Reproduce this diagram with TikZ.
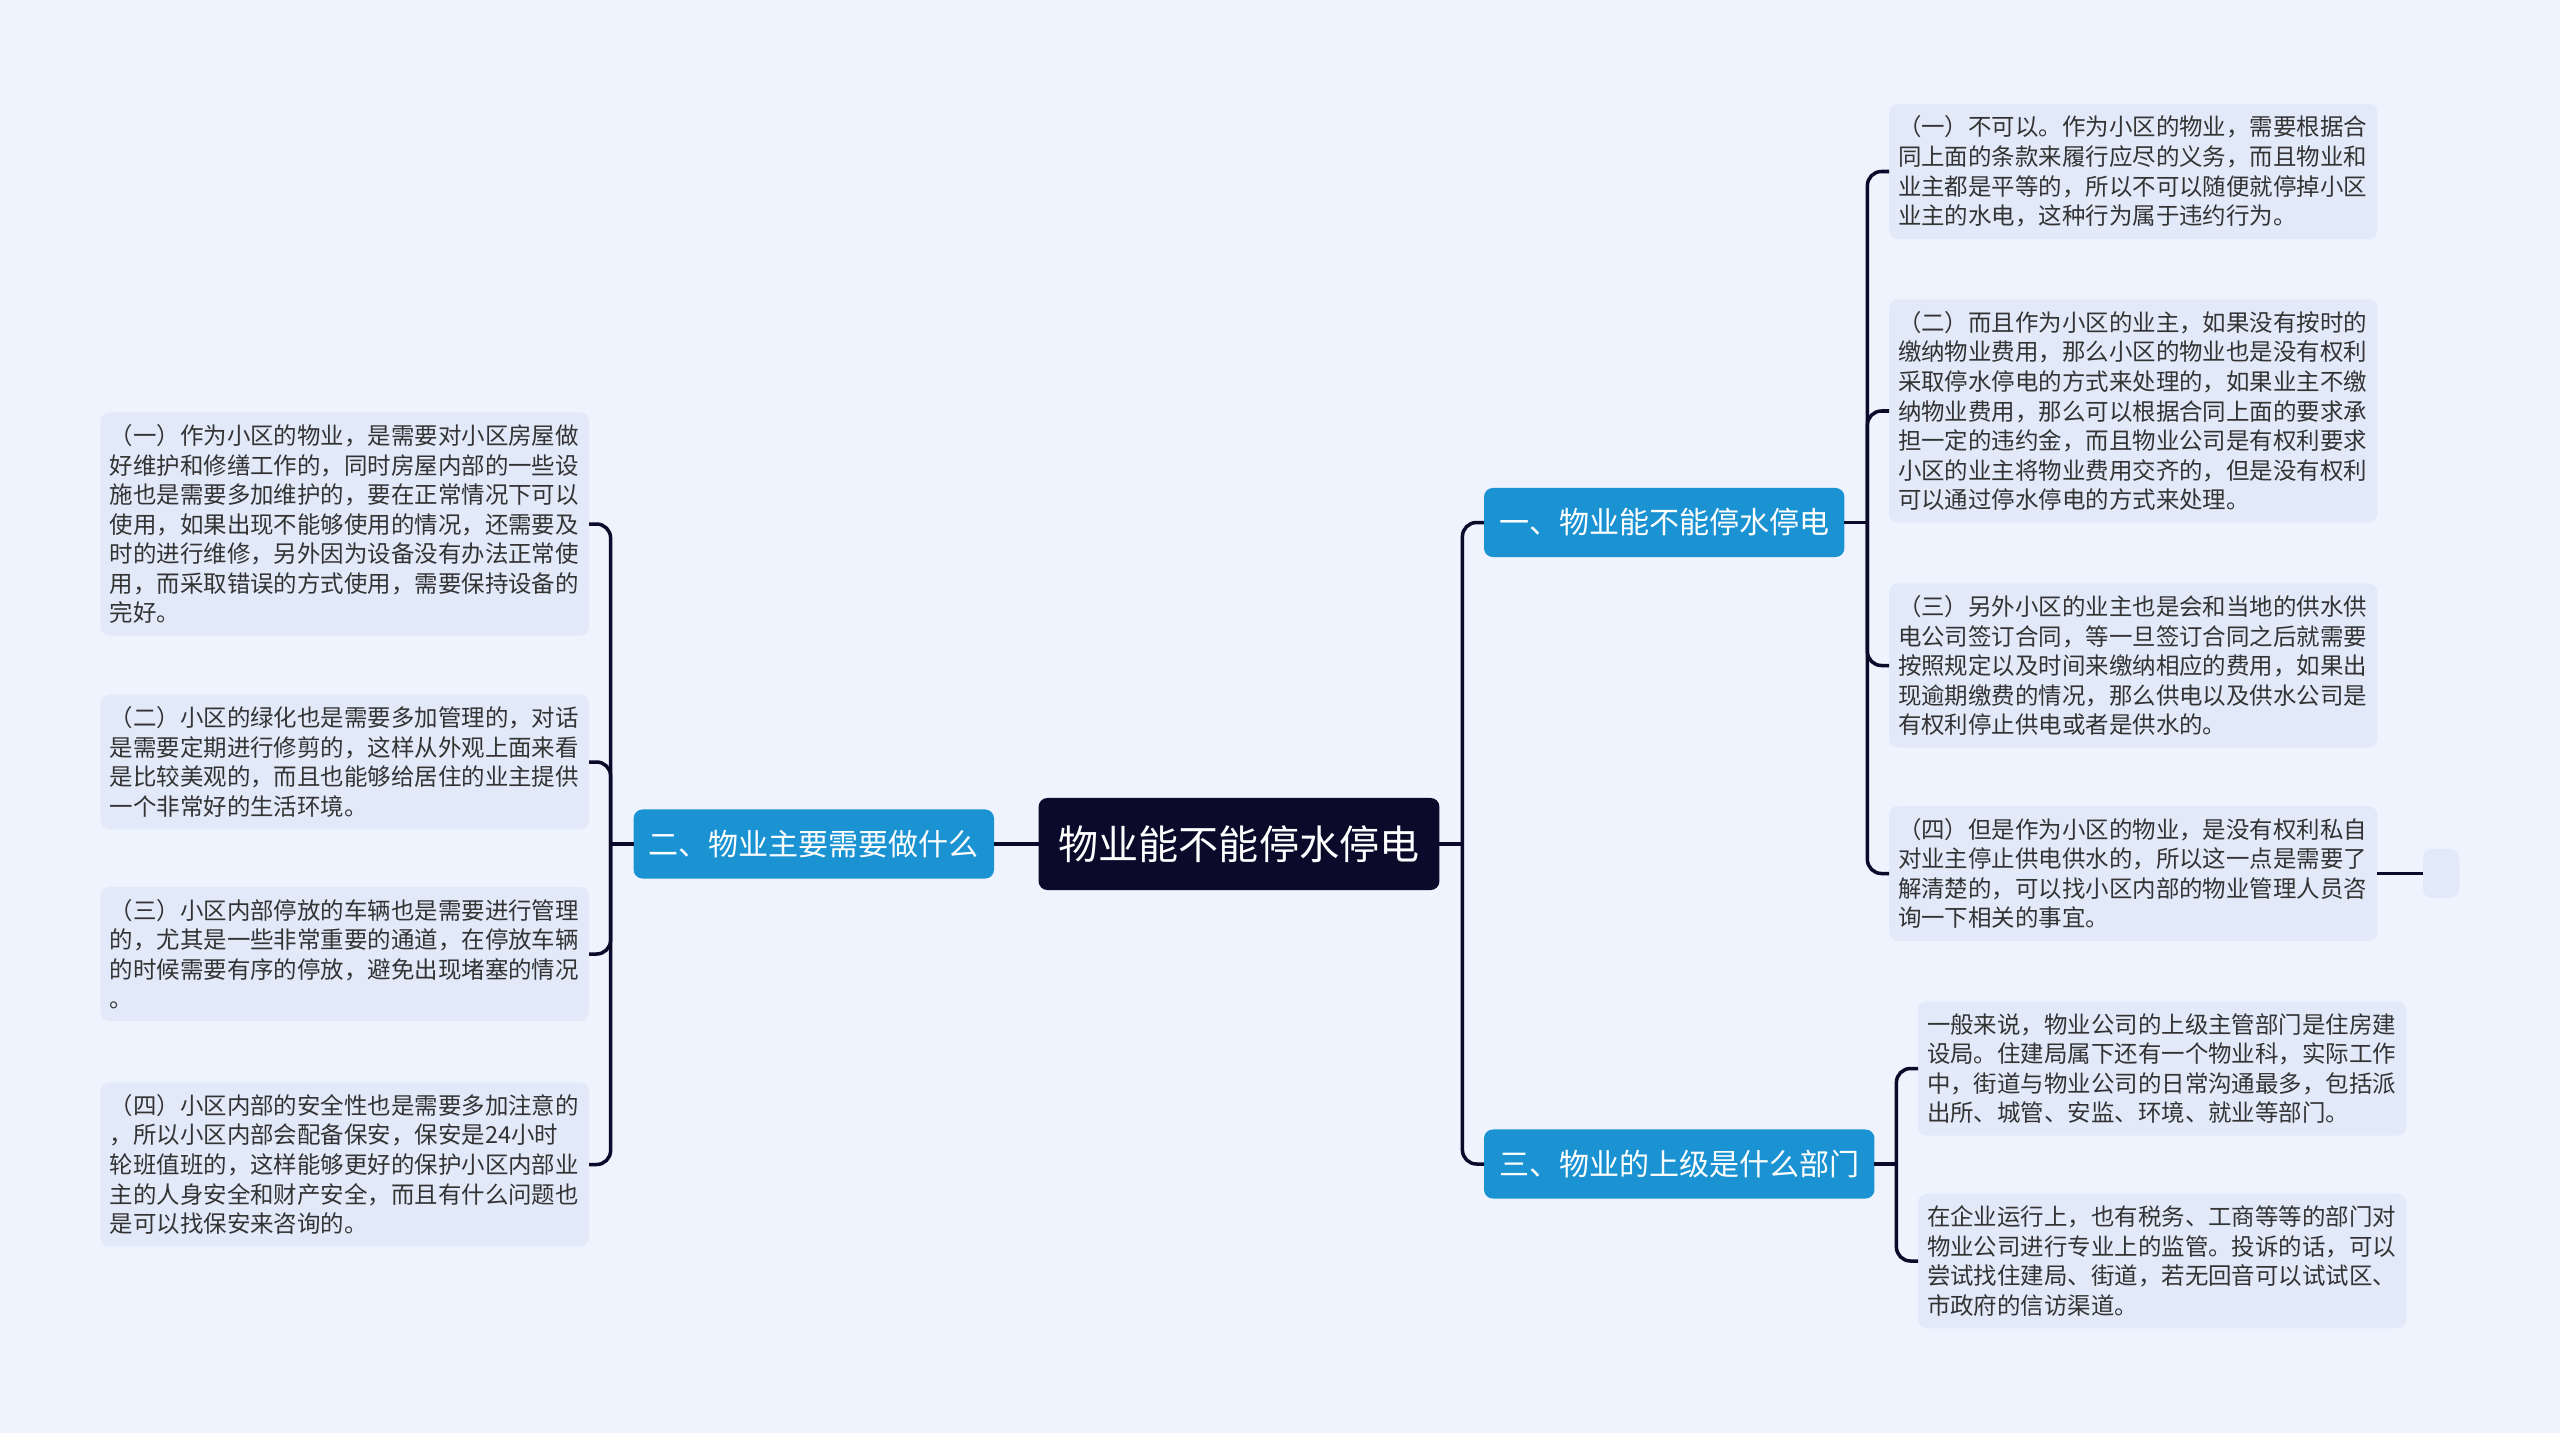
\documentclass[tikz,border=0pt]{standalone}
\usepackage{fontspec}
\setmainfont{Noto Sans CJK SC}
\definecolor{bgblue}{HTML}{EEF3FD}
\definecolor{leaffill}{HTML}{E2EAFA}
\definecolor{leaftext}{HTML}{333333}
\definecolor{branchblue}{HTML}{1B93D3}
\definecolor{rootnavy}{HTML}{0B0A2A}
\definecolor{linenavy}{HTML}{0B0A2A}

\begin{document}
\begin{tikzpicture}[x=0.01cm,y=-0.01cm,inner sep=0pt,outer sep=0pt,
leafblock/.style={fill=leaffill,rounded corners=2.5pt,text width=4.7cm,inner xsep=0.09cm,inner ysep=0.12cm,align=left,text=leaftext,font=\fontsize{6.67pt}{8.4pt}\selectfont},
stubblock/.style={fill=leaffill,rounded corners=2.5pt,minimum width=0.36cm,minimum height=0.49cm},
branchblock/.style={fill=branchblue,rounded corners=2.5pt,inner xsep=0.15cm,minimum height=0.69cm,text=white,font=\fontsize{8.54pt}{10pt}\selectfont},
rootblock/.style={fill=rootnavy,rounded corners=2.5pt,inner xsep=0.2cm,minimum height=0.92cm,text=white,font=\fontsize{11.4pt}{13pt}\selectfont},
link/.style={draw=linenavy,line width=1pt,rounded corners=4pt}]

\fill[bgblue] (0,0) rectangle (2560,1433);
\useasboundingbox (0,0) rectangle (2560,1433);

\draw (1239,844) node[rootblock] (root) {物业能不能停水停电};

\draw (1484,522.5) node[branchblock,anchor=west] (b1) {一、物业能不能停水停电};
\draw (994,844) node[branchblock,anchor=east] (b2) {二、物业主要需要做什么};
\draw (1484,1164) node[branchblock,anchor=west] (b3) {三、物业的上级是什么部门};

% left side
\draw (589,524) node[leafblock,anchor=east] (l1) {（一）作为小区的物业，是需要对小区房屋做\\好维护和修缮工作的，同时房屋内部的一些设\\施也是需要多加维护的，要在正常情况下可以\\使用，如果出现不能够使用的情况，还需要及\\时的进行维修，另外因为设备没有办法正常使\\用，而采取错误的方式使用，需要保持设备的\\完好。};
\draw (589,762) node[leafblock,anchor=east] (l2) {（二）小区的绿化也是需要多加管理的，对话\\是需要定期进行修剪的，这样从外观上面来看\\是比较美观的，而且也能够给居住的业主提供\\一个非常好的生活环境。};
\draw (589,954) node[leafblock,anchor=east] (l3) {（三）小区内部停放的车辆也是需要进行管理\\的，尤其是一些非常重要的通道，在停放车辆\\的时候需要有序的停放，避免出现堵塞的情况\\。};
\draw (589,1164.5) node[leafblock,anchor=east] (l4) {（四）小区内部的安全性也是需要多加注意的\\，所以小区内部会配备保安，保安是24小时\\轮班值班的，这样能够更好的保护小区内部业\\主的人身安全和财产安全，而且有什么问题也\\是可以找保安来咨询的。};

% right side
\draw (1889,171.5) node[leafblock,anchor=west] (r1) {（一）不可以。作为小区的物业，需要根据合\\同上面的条款来履行应尽的义务，而且物业和\\业主都是平等的，所以不可以随便就停掉小区\\业主的水电，这种行为属于违约行为。};
\draw (1889,411) node[leafblock,anchor=west] (r2) {（二）而且作为小区的业主，如果没有按时的\\缴纳物业费用，那么小区的物业也是没有权利\\采取停水停电的方式来处理的，如果业主不缴\\纳物业费用，那么可以根据合同上面的要求承\\担一定的违约金，而且物业公司是有权利要求\\小区的业主将物业费用交齐的，但是没有权利\\可以通过停水停电的方式来处理。};
\draw (1889,665.5) node[leafblock,anchor=west] (r3) {（三）另外小区的业主也是会和当地的供水供\\电公司签订合同，等一旦签订合同之后就需要\\按照规定以及时间来缴纳相应的费用，如果出\\现逾期缴费的情况，那么供电以及供水公司是\\有权利停止供电或者是供水的。};
\draw (1889,873.5) node[leafblock,anchor=west] (r4) {（四）但是作为小区的物业，是没有权利私自\\对业主停止供电供水的，所以这一点是需要了\\解清楚的，可以找小区内部的物业管理人员咨\\询一下相关的事宜。};
\draw (2441,873.5) node[stubblock] (r4x) {};

\draw (1918,1068.5) node[leafblock,anchor=west] (r5) {一般来说，物业公司的上级主管部门是住房建\\设局。住建局属下还有一个物业科，实际工作\\中，街道与物业公司的日常沟通最多，包括派\\出所、城管、安监、环境、就业等部门。};
\draw (1918,1261) node[leafblock,anchor=west] (r6) {在企业运行上，也有税务、工商等等的部门对\\物业公司进行专业上的监管。投诉的话，可以\\尝试找住建局、街道，若无回音可以试试区、\\市政府的信访渠道。};

% connectors
\draw[link] (root.west) -- (b2.east);
\draw[link] (root.east) -- ++(23,0) coordinate (rj);
\draw[link] (rj) |- (b1.west);
\draw[link] (rj) |- (b3.west);

\draw[link] (b2.west) -- ++(-23,0) coordinate (lj);
\foreach \n in {l1,l2,l3,l4} \draw[link] (lj) |- (\n.east);

\draw[link] (b1.east) -- ++(23,0) coordinate (aj);
\foreach \n in {r1,r2,r3,r4} \draw[link] (aj) |- (\n.west);
\draw[link] (r4.east) -- (r4x.west);

\draw[link] (b3.east) -- ++(22,0) coordinate (cj);
\foreach \n in {r5,r6} \draw[link] (cj) |- (\n.west);
\end{tikzpicture}
\end{document}
